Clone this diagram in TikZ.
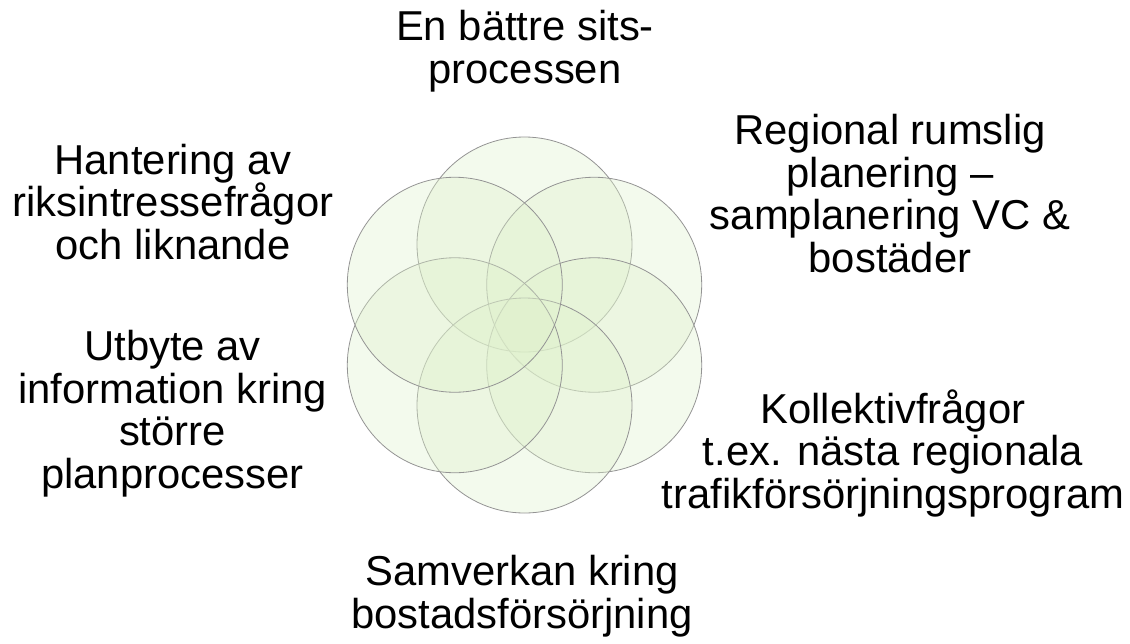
\documentclass[tikz,border=0pt]{standalone}
\usepackage{fontspec}
\setmainfont{Liberation Sans}
\begin{document}
\begin{tikzpicture}[x=1pt,y=-1pt,line join=round]
	\definecolor{laa}{RGB}{222,240,203}
	\tikzset{vong/.style={draw=black!42,line width=.8pt,fill=laa,fill opacity=.35},
		chu/.style={align=center,anchor=base,font=\fontsize{41.8}{42.5}\selectfont}}
	\useasboundingbox (0,0) rectangle (1130,643);
	%------------vong tron
	\foreach \g in {270,330,30,90,150,210}
		\path[vong] (524.5,325)++(\g:80.5) circle (107.5);
	%------------chu (goc: dong cuoi)
	\node[chu] (sits) at (525,83) {En bättre sits-\\processen};
	\node[chu] (region) at (890,272) {Regional rumslig\\planering –\\samplanering VC \&\\bostäder};
	\node[chu] (kollektiv) at (893,508) {Kollektivfrågor\\t.ex. nästa regionala\\trafikförsörjningsprogram};
	\node[chu] (bostad) at (522,628) {Samverkan kring\\bostadsförsörjning};
	\node[chu] (utbyte) at (172.5,488) {Utbyte av\\information kring\\större\\planprocesser};
	\node[chu] (riks) at (173,259) {Hantering av\\riksintressefrågor\\och liknande};
\end{tikzpicture}
\end{document}
